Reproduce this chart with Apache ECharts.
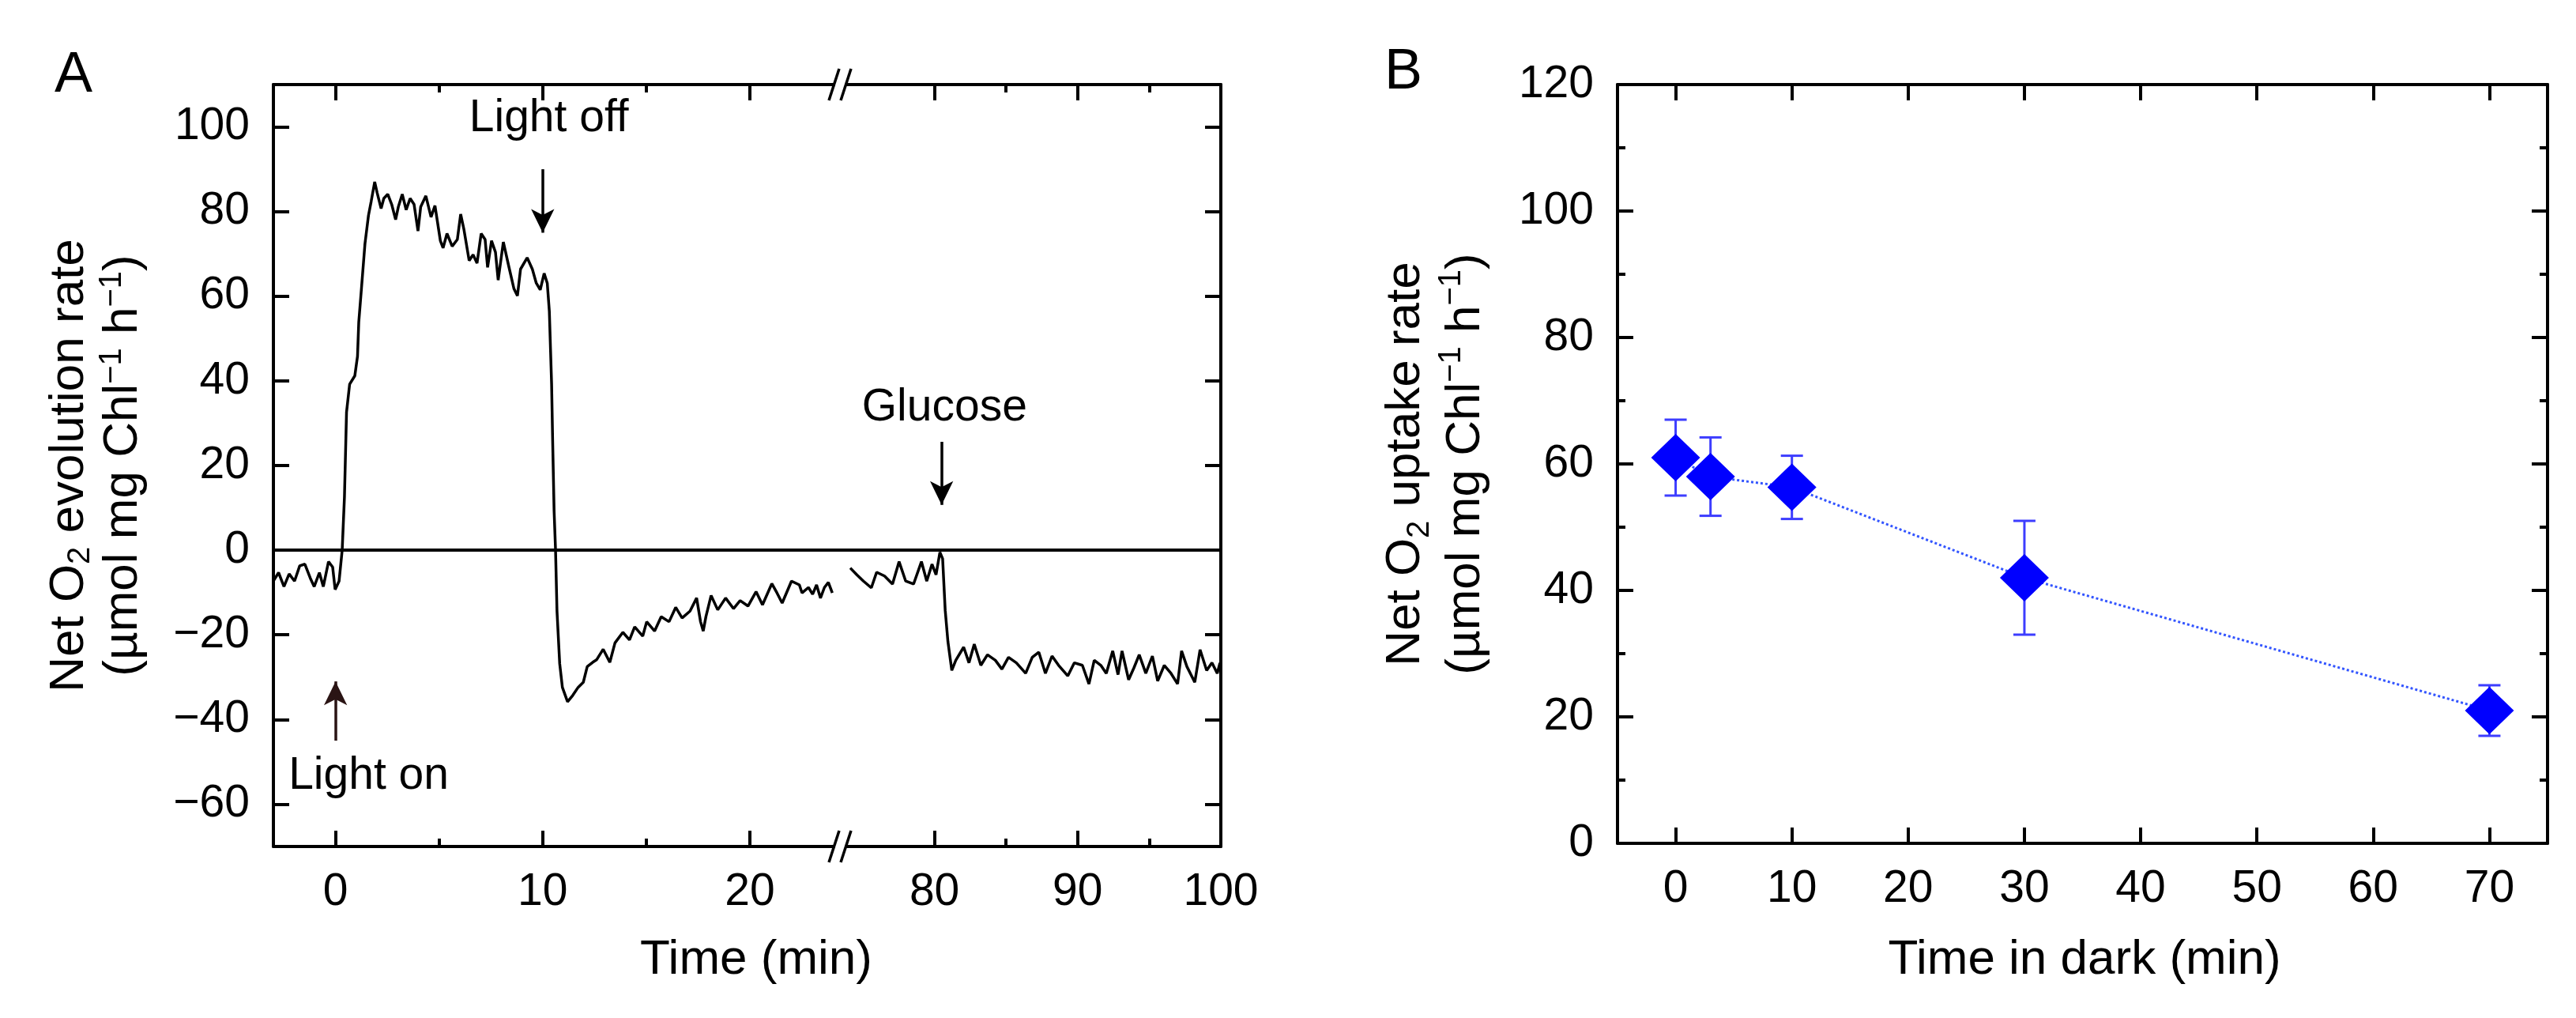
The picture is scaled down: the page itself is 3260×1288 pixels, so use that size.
<!DOCTYPE html>
<html><head><meta charset="utf-8">
<script src="https://cdn.jsdelivr.net/npm/echarts@6/dist/echarts.min.js"></script>
<style>html,body{margin:0;padding:0;background:#fff}#c{width:3260px;height:1288px}</style>
</head><body><div id="c"></div>
<script>
const FONT = "'Liberation Sans', Arial, sans-serif";

// ---------- Panel A: recorded trace (time in min, rate) ----------
const timeBeforeBreak = [-3,-2.75,-2.49,-2.24,-1.98,-1.73,-1.48,-1.22,-1.03,-0.78,-0.59,-0.34,-0.14,-0.02,0.17,0.32,
  0.43,0.53,0.68,0.93,1.06,1.12,1.25,1.42,1.59,1.72,1.89,2.01,2.2,2.33,2.52,2.71,2.9,3.03,3.22,3.41,3.6,3.79,3.98,4.11,
  4.36,4.61,4.8,5.06,5.19,5.38,5.63,5.88,6.04,6.2,6.45,6.64,6.83,7.03,7.22,7.34,7.53,7.72,7.85,8.1,8.36,8.61,8.78,8.93,
  9.25,9.5,9.69,9.88,10.07,10.22,10.32,10.43,10.48,10.55,10.62,
  10.69,10.82,10.95,11.2,11.45,11.71,11.96,12.15,12.41,12.6,12.92,13.24,13.49,13.87,14.19,14.44,14.83,15.02,15.4,15.72,
  16.1,16.42,16.73,17.11,17.43,17.62,17.75,17.88,18.13,18.45,18.83,19.21,19.53,19.91,20.3,20.61,21.06,21.31,21.56,22.01,
  22.39,22.52,22.83,23.03,23.22,23.41,23.6,23.79,23.98];
const rateBeforeBreak = [-7.3,-5.3,-8.6,-5.6,-7.3,-3.7,-3.3,-6.6,-8.6,-5.3,-8.6,-2.7,-4,-9.3,-7.3,0,
  12.6,32.6,39.2,41.2,45.8,53.8,61.8,72.4,79.1,82.4,87,84.4,80.7,83.1,84.1,81.7,78.1,81.1,84.1,80.4,83.1,81.7,75.4,81.1,
  83.7,78.7,81.4,73.1,71.4,74.8,71.8,73.4,79.4,75.7,68.4,69.8,67.8,74.8,73.4,66.8,73.1,70.4,63.8,72.8,67.1,61.8,60.1,66.4,
  69.1,66.4,63.1,61.5,65.4,63.1,56.5,39.2,25.9,9.3,0,
  -14.4,-26.8,-32.4,-35.8,-34.3,-32.4,-31.2,-27.5,-26.5,-25.9,-23.4,-26.5,-21.9,-19.4,-21.2,-18.1,-20.3,-16.9,-19.1,-15.7,
  -16.9,-13.5,-16,-14.4,-11.3,-16.9,-19.1,-15.7,-10.7,-14.1,-11.3,-13.8,-11.9,-13.2,-9.8,-12.9,-7.9,-10.1,-12.5,-7.3,
  -8.2,-10.1,-8.8,-10.4,-8.2,-11.3,-8.8,-7.6,-10.1];
const timeAfterBreak = [74.12,74.58,75.04,75.59,75.96,76.51,77.07,77.53,77.99,78.54,79.09,79.46,79.83,80.11,80.38,80.57,
  80.75,80.94,81.21,81.49,82.04,82.41,82.78,83.24,83.7,84.25,84.71,85.17,85.72,86.37,86.83,87.29,87.75,88.21,88.67,89.31,
  89.77,90.33,90.79,91.16,91.62,92,92.45,92.82,93.1,93.56,93.93,94.3,94.76,95.22,95.59,96.05,96.52,96.98,97.26,97.63,
  98.18,98.55,99.01,99.38,99.75,99.94];
const rateAfterBreak = [-4.2,-5.8,-7.3,-8.9,-5.2,-6.1,-8,-2.7,-7.3,-8,-2.7,-7.3,-3.3,-5.8,-0.5,-2,
  -14.2,-21.6,-28.4,-26,-22.9,-26.6,-22.2,-27.2,-24.7,-26,-28.1,-25.3,-26.6,-29.1,-25.3,-24.1,-29.1,-25,-27.2,-29.7,
  -26.6,-27.2,-31.6,-26,-27.2,-29.1,-23.8,-29.4,-23.8,-30.6,-27.8,-24.7,-29.1,-25,-30.9,-27.2,-29.1,-31.6,-23.8,-27.5,
  -31.2,-23.5,-28.4,-26.6,-29.1,-26.6];

// ---------- Panel B ----------
const darkTimes = [0, 3, 10, 30, 70];
const uptakeRate = [61, 58, 56.3, 42, 21];
const uptakeErr = [6, 6.2, 5, 9, 4];

// ---------- Ticks ----------
const xMajorLeft = [0, 10, 20], xMinorLeft = [5, 15];
const xMajorRight = [80, 90, 100], xMinorRight = [85, 95];
const yTicksA = [-60, -40, -20, 0, 20, 40, 60, 80, 100];
const xTicksB = [0, 10, 20, 30, 40, 50, 60, 70];
const yMajorB = [0, 20, 40, 60, 80, 100, 120];
const yMinorB = [10, 30, 50, 70, 90, 110];

// ---------- Annotations (panel A) ----------
const lightOff = {text: 'Light off', textAt: [10.3, 102], arrowFrom: [10, 90], arrowTo: [10, 75]};
const lightOn = {text: 'Light on', textAt: [1.6, -53.5], arrowFrom: [0, -45], arrowTo: [0, -31]};
const glucose = {text: 'Glucose', textAt: [80.7, 33.5], arrowFrom: [80.5, 25.6], arrowTo: [80.5, 10.7]};

// ---------- Layout ----------
const A_L = 346, A_BRK = 1063, A_R = 1545, TOP = 107, A_BOT = 1071;
const B_L = 2047, B_R = 3224, B_BOT = 1067;
const TICK_FS = 57, TITLE_FS = 62;

const lineSt = {color: '#000', width: 4};
function xAx(gridIndex, min, max, position, ticks, len, showLine, labels) {
  return {
    type: 'value', gridIndex, min, max, position,
    axisLine: {show: showLine, onZero: false, lineStyle: lineSt},
    axisTick: {show: true, inside: true, length: len, lineStyle: lineSt, customValues: ticks},
    axisLabel: labels ? {show: true, customValues: labels, fontSize: TICK_FS, fontFamily: FONT, color: '#000', margin: 30} : {show: false},
    splitLine: {show: false}
  };
}
function yAx(gridIndex, min, max, position, ticks, len, showLine, labels, extra) {
  return Object.assign({
    type: 'value', gridIndex, min, max, position,
    axisLine: {show: showLine, onZero: false, lineStyle: lineSt},
    axisTick: {show: true, inside: true, length: len, lineStyle: lineSt, customValues: ticks},
    axisLabel: labels ? {show: true, customValues: labels, fontSize: TICK_FS, fontFamily: FONT, color: '#000', margin: 30,
      formatter: v => v < 0 ? '\u2212' + (-v) : String(v)} : {show: false},
    splitLine: {show: false}
  }, extra || {});
}
const richName = (lh) => ({
  t: {fontSize: TITLE_FS, fontFamily: FONT, color: '#000', lineHeight: lh},
  s: {fontSize: 40, fontFamily: FONT, color: '#000', lineHeight: lh, verticalAlign: 'bottom', padding: [0, 0, 0, 0]},
  p: {fontSize: 40, fontFamily: FONT, color: '#000', lineHeight: lh, verticalAlign: 'top'}
});
const unitLine = '{t|(\u00b5mol mg Chl}{p|\u22121}{t| h}{p|\u22121}{t|)}';

const chart = echarts.init(document.getElementById('c'), null, {renderer: 'canvas'});

function breakMark(y) {
  const x = A_BRK;
  return [
    {type: 'rect', shape: {x: x - 6, y: y - 6, width: 13, height: 12}, style: {fill: '#fff'}, z: 100},
    {type: 'line', shape: {x1: x - 14, y1: y + 20, x2: x - 1, y2: y - 20}, style: {stroke: '#000', lineWidth: 3.5}, z: 101},
    {type: 'line', shape: {x1: x + 1, y1: y + 20, x2: x + 14, y2: y - 20}, style: {stroke: '#000', lineWidth: 3.5}, z: 101}
  ];
}

function arrowLine(a, color) {
  return [
    {coord: a.arrowFrom, symbol: 'none'},
    {coord: a.arrowTo, symbol: 'arrow', symbolSize: [22, 30], lineStyle: {color: color, width: 3.5, type: 'solid'}}
  ];
}
function textPoint(a) {
  return {coord: a.textAt, value: a.text, name: a.text};
}
const markTextStyle = {show: true, position: 'inside', formatter: p => p.name, fontSize: TICK_FS, fontFamily: FONT, color: '#000'};

const option = {
  animation: false,
  backgroundColor: '#fff',
  grid: [
    {left: A_L, top: TOP, width: A_BRK - A_L, height: A_BOT - TOP},
    {left: A_BRK, top: TOP, width: A_R - A_BRK, height: A_BOT - TOP},
    {left: B_L, top: TOP, width: B_R - B_L, height: B_BOT - TOP}
  ],
  xAxis: [
    xAx(0, -3, 24.35, 'bottom', xMajorLeft, 20, true, xMajorLeft),
    xAx(0, -3, 24.35, 'bottom', xMinorLeft, 10, false, null),
    xAx(0, -3, 24.35, 'top', xMajorLeft, 20, true, null),
    xAx(0, -3, 24.35, 'top', xMinorLeft, 10, false, null),
    xAx(1, 73.4, 100, 'bottom', xMajorRight, 20, true, xMajorRight),
    xAx(1, 73.4, 100, 'bottom', xMinorRight, 10, false, null),
    xAx(1, 73.4, 100, 'top', xMajorRight, 20, true, null),
    xAx(1, 73.4, 100, 'top', xMinorRight, 10, false, null),
    xAx(2, -5, 75, 'bottom', xTicksB, 20, true, xTicksB),
    xAx(2, -5, 75, 'top', xTicksB, 20, true, null)
  ],
  yAxis: [
    yAx(0, -70, 110, 'left', yTicksA, 20, true, yTicksA, {
      name: '{t|Net O}{s|2}{t| evolution rate}\n' + unitLine,
      nameLocation: 'middle', nameRotate: 90, nameGap: 156,
      nameTextStyle: {fontSize: TITLE_FS, fontFamily: FONT, color: '#000', lineHeight: 68, rich: richName(68)}
    }),
    yAx(1, -70, 110, 'right', yTicksA, 20, true, null),
    yAx(2, 0, 120, 'left', yMajorB, 20, true, yMajorB, {
      name: '{t|Net O}{s|2}{t| uptake rate}\n' + unitLine,
      nameLocation: 'middle', nameRotate: 90, nameGap: 154,
      nameTextStyle: {fontSize: TITLE_FS, fontFamily: FONT, color: '#000', lineHeight: 76, rich: richName(76)}
    }),
    yAx(2, 0, 120, 'left', yMinorB, 10, false, null),
    yAx(2, 0, 120, 'right', yMajorB, 20, true, null),
    yAx(2, 0, 120, 'right', yMinorB, 10, false, null)
  ],
  series: [
    {
      type: 'line', xAxisIndex: 0, yAxisIndex: 0, showSymbol: false, symbol: 'none',
      data: timeBeforeBreak.map((t, i) => [t, rateBeforeBreak[i]]),
      lineStyle: {color: '#000', width: 3.5}, z: 5,
      markLine: {
        silent: true, symbol: ['none', 'none'], label: {show: false},
        lineStyle: {color: '#000', width: 4, type: 'solid'},
        data: [
          {yAxis: 0},
          arrowLine(lightOff, '#000'),
          arrowLine(lightOn, '#2a1414')
        ]
      },
      markPoint: {
        silent: true, symbol: 'circle', symbolSize: 1, itemStyle: {color: 'rgba(0,0,0,0)'},
        label: markTextStyle,
        data: [textPoint(lightOff), textPoint(lightOn)]
      }
    },
    {
      type: 'line', xAxisIndex: 4, yAxisIndex: 1, showSymbol: false, symbol: 'none',
      data: timeAfterBreak.map((t, i) => [t, rateAfterBreak[i]]),
      lineStyle: {color: '#000', width: 3.5}, z: 5,
      markLine: {
        silent: true, symbol: ['none', 'none'], label: {show: false},
        lineStyle: {color: '#000', width: 4, type: 'solid'},
        data: [
          {yAxis: 0},
          arrowLine(glucose, '#000')
        ]
      },
      markPoint: {
        silent: true, symbol: 'circle', symbolSize: 1, itemStyle: {color: 'rgba(0,0,0,0)'},
        label: markTextStyle,
        data: [textPoint(glucose)]
      }
    },
    {
      type: 'custom', xAxisIndex: 8, yAxisIndex: 2, z: 3,
      data: darkTimes.map((t, i) => [t, uptakeRate[i], uptakeErr[i]]),
      renderItem: (params, api) => {
        const x = api.value(0), y = api.value(1), e = api.value(2);
        const top = api.coord([x, y + e]), bot = api.coord([x, y - e]);
        const hw = 14;
        const st = {stroke: '#3d3dff', lineWidth: 3};
        return {type: 'group', children: [
          {type: 'line', shape: {x1: top[0], y1: top[1], x2: bot[0], y2: bot[1]}, style: st},
          {type: 'line', shape: {x1: top[0] - hw, y1: top[1], x2: top[0] + hw, y2: top[1]}, style: st},
          {type: 'line', shape: {x1: bot[0] - hw, y1: bot[1], x2: bot[0] + hw, y2: bot[1]}, style: st}
        ]};
      }
    },
    {
      type: 'line', xAxisIndex: 8, yAxisIndex: 2, z: 4,
      data: darkTimes.map((t, i) => [t, uptakeRate[i]]),
      symbol: 'diamond', symbolSize: [62, 60],
      itemStyle: {color: '#0000ff'},
      lineStyle: {color: '#3355ff', width: 3, type: [3, 3]}
    }
  ],
  graphic: [
    ...breakMark(TOP), ...breakMark(A_BOT),
    {type: 'text', x: 93, y: 96, style: {text: 'A', fontSize: 72, fontFamily: FONT, fill: '#000', align: 'center', verticalAlign: 'middle'}},
    {type: 'text', x: 1776, y: 92, style: {text: 'B', fontSize: 72, fontFamily: FONT, fill: '#000', align: 'center', verticalAlign: 'middle'}},
    {type: 'text', x: 957, y: 1215, style: {text: 'Time (min)', fontSize: TITLE_FS, fontFamily: FONT, fill: '#000', align: 'center', verticalAlign: 'middle'}},
    {type: 'text', x: 2638, y: 1215, style: {text: 'Time in dark (min)', fontSize: TITLE_FS, fontFamily: FONT, fill: '#000', align: 'center', verticalAlign: 'middle'}}
  ]
};
chart.setOption(option);
</script>
</body></html>
